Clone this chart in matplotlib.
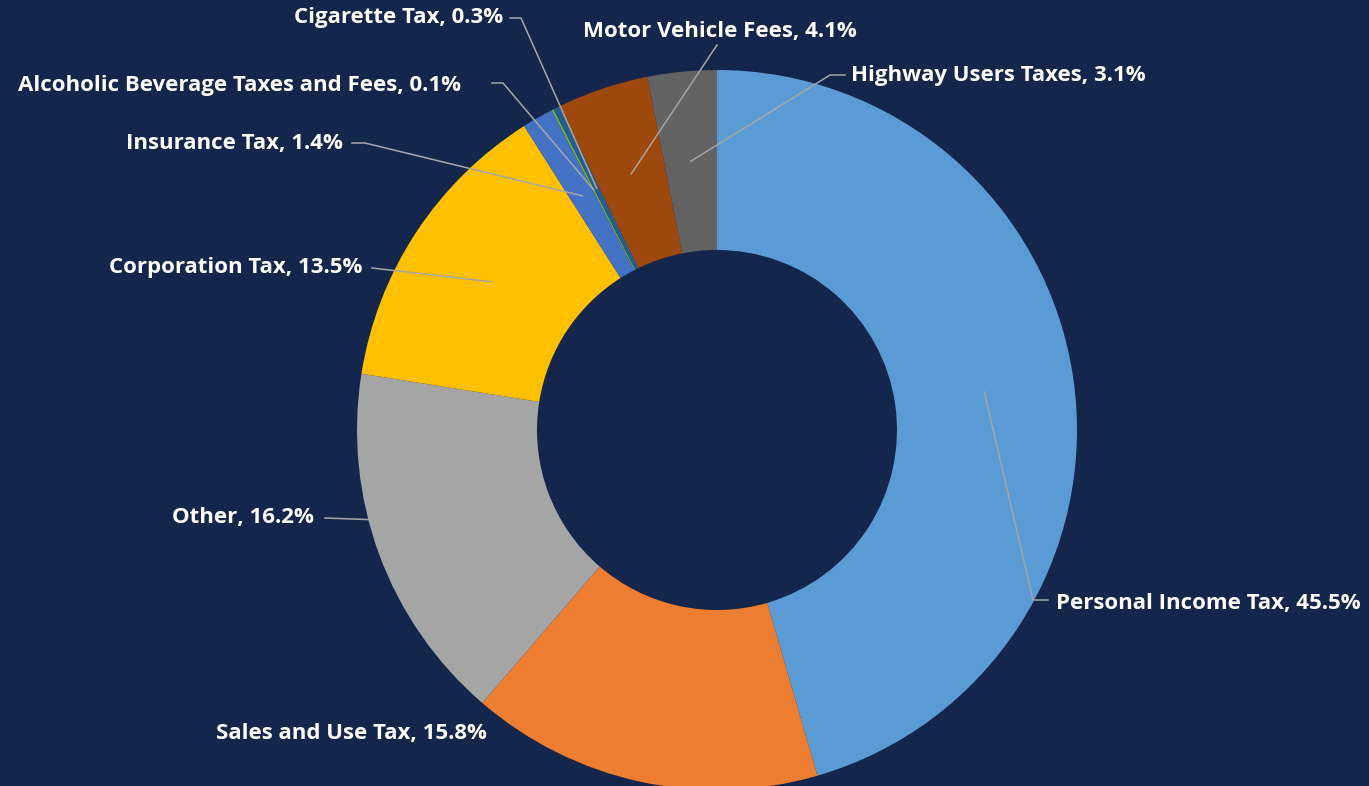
import numpy as np
import matplotlib
matplotlib.use("Agg")
import matplotlib.pyplot as plt

# data
categories = ["Personal Income Tax", "Sales and Use Tax", "Other", "Corporation Tax",
              "Insurance Tax", "Alcoholic Beverage Taxes and Fees", "Cigarette Tax",
              "Motor Vehicle Fees", "Highway Users Taxes"]
shares = [45.5, 15.8, 16.2, 13.5, 1.4, 0.1, 0.3, 4.1, 3.1]
colors = ["#5B9BD5", "#ED7D31", "#A5A5A5", "#FFC000", "#4472C4",
          "#70AD47", "#255E91", "#9E480E", "#636363"]

BG = "#14264B"
W, H = 1369, 786
cx, cy, R = 717, H - 430, 360

# label layout in pixel coords (y from top): text x, text y, ha, leader path (excluding anchor)
layout = [
    (1056, 603, "left", [(1048, 600), (1033, 600)]),
    (216, 733, "left", None),
    (314, 518, "right", [(325, 518)]),
    (362, 268, "right", [(372, 268)]),
    (343, 143, "right", [(352, 143), (365, 143)]),
    (461, 86, "right", [(492, 83), (503, 83)]),
    (503, 18, "right", [(510, 18), (521, 18)]),
    (720, 31, "center", [(717, 45)]),
    (851, 75, "left", [(845, 75), (830, 75)]),
]

fig = plt.figure(figsize=(W / 100, H / 100), dpi=100, facecolor=BG)
ax = fig.add_axes([0, 0, 1, 1])
ax.set_facecolor(BG)

wedges, _ = ax.pie(shares, colors=colors, startangle=90, counterclock=False,
                   center=(cx, cy), radius=R, frame=True,
                   wedgeprops=dict(width=R / 2, edgecolor="none"))
ax.set_xlim(0, W)
ax.set_ylim(0, H)
ax.axis("off")

for w, name, val, (tx, ty, ha, path) in zip(wedges, categories, shares, layout):
    mid = np.deg2rad((w.theta1 + w.theta2) / 2)
    ax_x = cx + 0.75 * R * np.cos(mid)
    ax_y = cy + 0.75 * R * np.sin(mid)
    if path is not None:
        xs = [p[0] for p in path] + [ax_x]
        ys = [H - p[1] for p in path] + [ax_y]
        ax.plot(xs, ys, color="#A6A6A6", lw=1.1, zorder=3)
    ax.text(tx, H - ty, f"{name}, {val}%", ha=ha, va="center", color="white",
            fontsize=16, fontweight="bold", family=["Open Sans", "DejaVu Sans"])

fig.savefig("out.png", dpi=100, facecolor=BG)
